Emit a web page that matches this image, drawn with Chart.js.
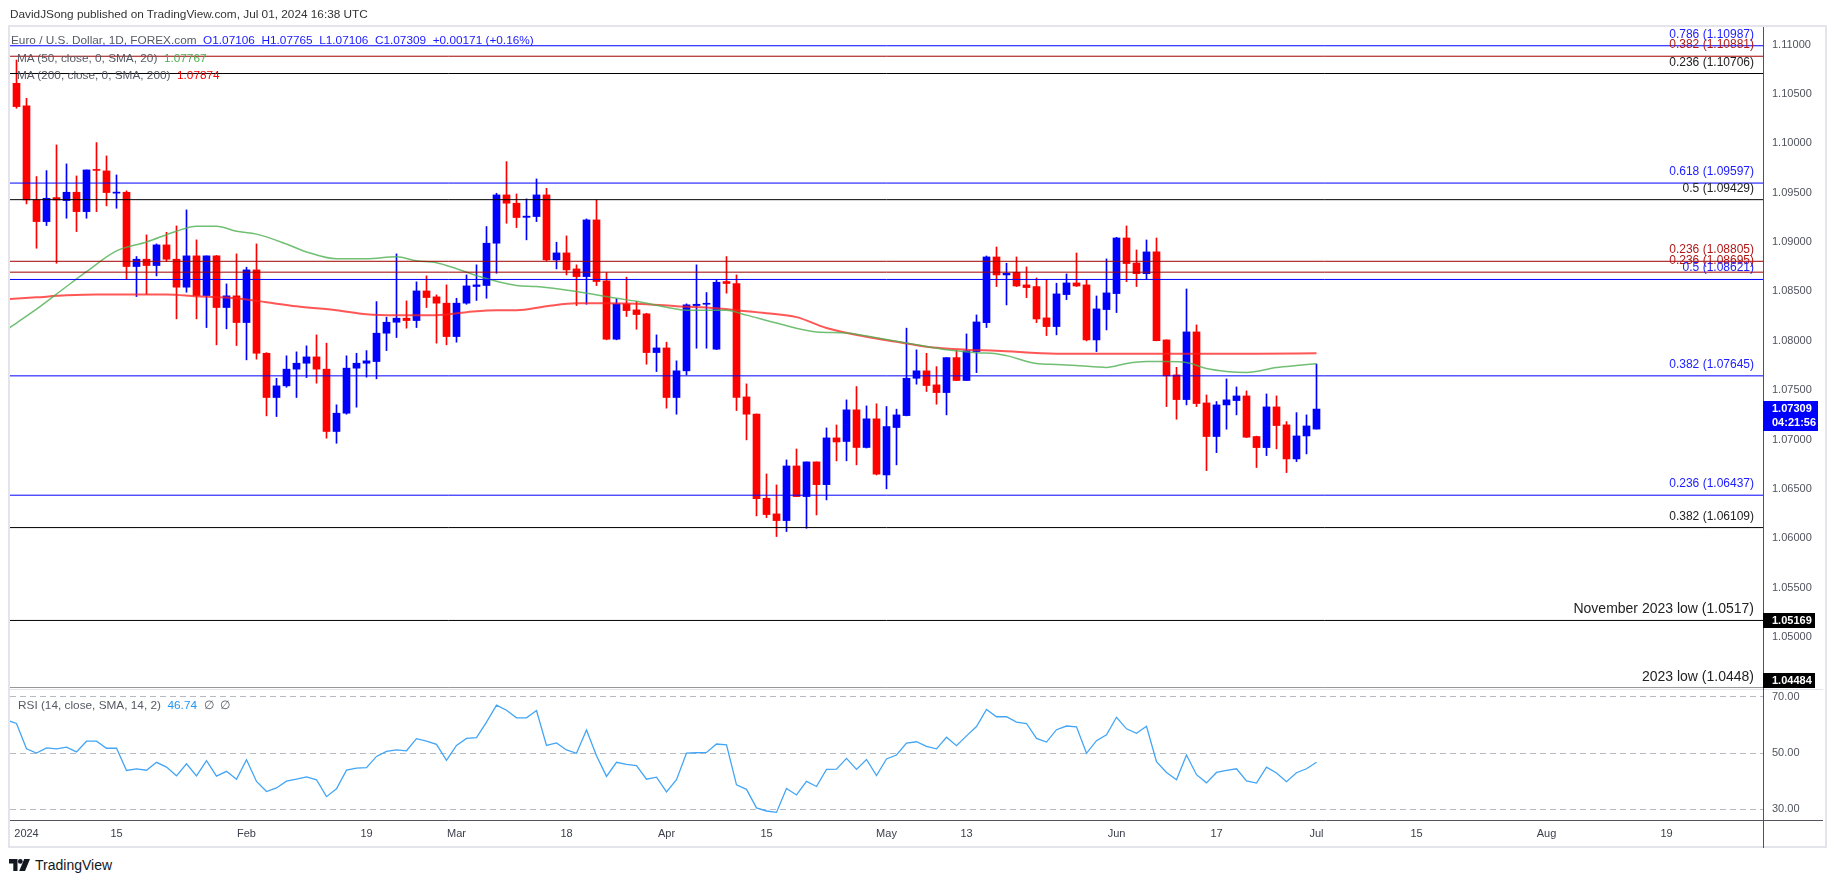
<!DOCTYPE html>
<html>
<head>
<meta charset="utf-8">
<title>EUR/USD 1D</title>
<script src="https://cdn.jsdelivr.net/npm/chart.js@4.4.1/dist/chart.umd.min.js"></script>
<style>
  html, body { margin: 0; padding: 0; background: #fff; }
  body { width: 1835px; height: 883px; position: relative; overflow: hidden; font-family: "Liberation Sans", Arial, sans-serif; }
  #frame { position: absolute; left: 8px; top: 25px; width: 1819px; height: 823px; box-sizing: border-box; border: 2px solid #e3e4ec; }
  canvas { position: absolute; left: 0; }
  #main { top: 0; }
  #rsi { top: 689px; }
  .txt { position: absolute; font-size: 11.8px; line-height: 15px; white-space: pre; color: #555a64; }
  .blue { color: #1a1aff; }
  #logo { position: absolute; left: 9px; top: 858px; height: 14px; display: flex; align-items: center; gap: 5px; }
</style>
</head>
<body>
<div id="frame"></div>
<canvas id="main" width="1835" height="690"></canvas>
<canvas id="rsi" width="1835" height="159"></canvas>

<div class="txt" style="left:10px;top:7px;color:#333">DavidJSong published on TradingView.com, Jul 01, 2024 16:38 UTC</div>
<div class="txt" style="left:11px;top:33px">Euro / U.S. Dollar, 1D, FOREX.com  <span class="blue" id="ohlc"></span></div>
<div class="txt" style="left:17px;top:51px">MA (50, close, 0, SMA, 20)  <span style="color:#4caf50" id="ma50v"></span></div>
<div class="txt" style="left:17px;top:68px">MA (200, close, 0, SMA, 200)  <span style="color:#ff0000" id="ma200v"></span></div>
<div class="txt" style="left:18px;top:698px">RSI (14, close, SMA, 14, 2)  <span style="color:#2196f3" id="rsiv"></span>  ∅  ∅</div>
<div id="logo">
  <svg width="21" height="12" viewBox="0 0 21 12"><path d="M0 0h8.5v12h-4.2v-7.6h-4.3z" fill="#131722"/><circle cx="11.3" cy="2.4" r="2.4" fill="#131722"/><path d="M15.2 0h5.8l-5 12h-5.8z" fill="#131722"/></svg>
  <span style="font-size:14px;color:#131722">TradingView</span>
</div>

<script>
// daily bars, index 0 = Dec 29 2023, index 130 = Jul 01 2024

const tickPos = [1, 10, 23, 35, 44, 55, 65, 75, 87, 95, 110, 120, 130, 140, 153, 165];
const tickLabels = ['2024', '15', 'Feb', '19', 'Mar', '18', 'Apr', '15', 'May', '13', 'Jun', '17', 'Jul', '15', 'Aug', '19'];

const opens = [1.10607,1.10378,1.09426,1.09207,1.09450,1.09420,1.09504,1.09308,1.09735,1.09720,
1.09495,1.09504,1.08752,1.08826,1.08762,1.08971,1.08826,1.08543,1.08860,1.08458,
1.08860,1.08337,1.08455,1.08185,1.08718,1.07874,1.07426,1.07544,1.07713,1.07773,
1.07837,1.07713,1.07082,1.07267,1.07723,1.07773,1.07790,1.08077,1.08188,1.08229,
1.08205,1.08505,1.08445,1.08381,1.08043,1.08381,1.08550,1.08560,1.08988,1.09477,
1.09393,1.09250,1.09258,1.09477,1.08819,1.08890,1.08728,1.08650,1.09224,1.08607,
1.08016,1.08374,1.08313,1.08273,1.07881,1.07928,1.07426,1.07696,1.08357,1.08370,
1.07915,1.08600,1.08580,1.07432,1.07257,1.06406,1.06248,1.06180,1.06733,1.06423,
1.06774,1.06544,1.07017,1.06981,1.07301,1.06920,1.07210,1.06642,1.07122,1.07243,
1.07621,1.07696,1.07554,1.07476,1.07830,1.07598,1.07891,1.08184,1.08849,1.08667,
1.08694,1.08566,1.08549,1.08232,1.08144,1.08468,1.08586,1.08566,1.08009,1.08316,
1.08478,1.09041,1.08788,1.08680,1.08900,1.08009,1.07655,1.07405,1.08090,1.07371,
1.07031,1.07351,1.07395,1.07442,1.07031,1.06919,1.07331,1.07149,1.06804,1.07037,
1.07106];

const highs = [1.10843,1.10455,1.09663,1.09723,1.09983,1.09791,1.09669,1.09730,1.10007,1.09872,
1.09679,1.09518,1.08853,1.09072,1.08981,1.09099,1.09163,1.09325,1.09022,1.08860,
1.08865,1.08576,1.08880,1.08745,1.08981,1.07880,1.07620,1.07848,1.07888,1.07949,
1.08060,1.07976,1.07352,1.07848,1.07874,1.07901,1.08397,1.08239,1.08880,1.08404,
1.08597,1.08657,1.08465,1.08566,1.08431,1.08667,1.08769,1.09157,1.09494,1.09814,
1.09487,1.09437,1.09639,1.09544,1.08998,1.09062,1.08769,1.09234,1.09426,1.08691,
1.08424,1.08644,1.08397,1.08279,1.08060,1.07986,1.07797,1.08374,1.08769,1.08489,
1.08617,1.08853,1.08667,1.07564,1.07260,1.06652,1.06541,1.06794,1.06905,1.06774,
1.06774,1.07118,1.07148,1.07402,1.07537,1.07341,1.07362,1.07335,1.07308,1.08128,
1.07908,1.07874,1.07739,1.07830,1.07901,1.08070,1.08262,1.08859,1.08950,1.08785,
1.08849,1.08748,1.08636,1.08619,1.08583,1.08677,1.08889,1.08616,1.08454,1.08829,
1.09048,1.09163,1.08920,1.09021,1.09041,1.08010,1.07732,1.08525,1.08161,1.07452,
1.07385,1.07614,1.07533,1.07493,1.07035,1.07462,1.07442,1.07182,1.07273,1.07250,
1.07765];

const lows = [1.10354,1.09386,1.08937,1.09167,1.08785,1.09241,1.09106,1.09241,1.09308,1.09366,
1.09342,1.08627,1.08448,1.08472,1.08657,1.08802,1.08222,1.08492,1.08222,1.08134,
1.07959,1.08121,1.07952,1.07807,1.07814,1.07240,1.07233,1.07530,1.07426,1.07628,
1.07571,1.07014,1.06963,1.07257,1.07328,1.07632,1.07615,1.07901,1.08033,1.08128,
1.08134,1.08337,1.07976,1.07959,1.07986,1.08370,1.08408,1.08431,1.08684,1.09190,
1.09146,1.09022,1.09207,1.08809,1.08728,1.08667,1.08357,1.08370,1.08559,1.08010,
1.08010,1.08246,1.08117,1.07763,1.07689,1.07318,1.07257,1.07655,1.07925,1.07925,
1.07910,1.08482,1.07294,1.06997,1.06227,1.06210,1.06018,1.06069,1.06423,1.06102,
1.06237,1.06389,1.06784,1.06785,1.06744,1.06915,1.06642,1.06501,1.06744,1.07240,
1.07561,1.07487,1.07358,1.07250,1.07598,1.07597,1.07678,1.08134,1.08549,1.08363,
1.08549,1.08437,1.08184,1.08053,1.08060,1.08417,1.08550,1.07999,1.07891,1.08110,
1.08286,1.08599,1.08549,1.08623,1.08000,1.07334,1.07206,1.07351,1.07334,1.06686,
1.06868,1.07105,1.07250,1.07020,1.06717,1.06838,1.06906,1.06666,1.06777,1.06855,
1.07106];

const closes = [1.10371,1.09426,1.09207,1.09443,1.09426,1.09504,1.09308,1.09730,1.09725,1.09501,
1.09505,1.08752,1.08826,1.08762,1.08971,1.08826,1.08543,1.08860,1.08458,1.08860,
1.08337,1.08455,1.08185,1.08718,1.07874,1.07426,1.07544,1.07713,1.07773,1.07837,
1.07713,1.07082,1.07267,1.07723,1.07773,1.07797,1.08077,1.08188,1.08229,1.08205,
1.08505,1.08438,1.08381,1.08043,1.08381,1.08556,1.08566,1.08988,1.09477,1.09393,
1.09248,1.09262,1.09477,1.08819,1.08890,1.08718,1.08650,1.09224,1.08600,1.08016,
1.08374,1.08306,1.08266,1.07881,1.07928,1.07426,1.07696,1.08364,1.08370,1.08374,
1.08593,1.08580,1.07426,1.07257,1.06403,1.06241,1.06180,1.06733,1.06423,1.06774,
1.06544,1.07017,1.06976,1.07301,1.06920,1.07210,1.06650,1.07132,1.07250,1.07621,
1.07696,1.07547,1.07476,1.07830,1.07598,1.07898,1.08191,1.08849,1.08667,1.08684,
1.08555,1.08539,1.08221,1.08144,1.08475,1.08586,1.08555,1.08009,1.08323,1.08485,
1.09041,1.08782,1.08680,1.08900,1.08002,1.07645,1.07405,1.08090,1.07365,1.07031,
1.07351,1.07402,1.07442,1.07024,1.06919,1.07331,1.07142,1.06804,1.07037,1.07138,
1.07309];

// moving averages read at a subset of bars
const ma50Idx = [-1,0,2,5,7,10,13,16,18,20,22,24,27,29,32,35,38,40,42,44,46,50,52,56,60,62,65,67,71,73,76,80,83,86,90,93,96,98,99,102,104,106,109,111,113,115,117,119,121,123,126,128,130];
const ma50Val = [1.0811,1.0818,1.0832,1.0855,1.0870,1.0891,1.0900,1.0911,1.0916,1.0916,1.0911,1.0908,1.0898,1.0890,1.0883,1.0883,1.0885,1.0881,1.0879,1.0873,1.0866,1.0856,1.0855,1.0850,1.0843,1.0840,1.0834,1.0831,1.0831,1.0826,1.0818,1.0809,1.0808,1.0803,1.0796,1.0791,1.0788,1.0787,1.0785,1.0777,1.0776,1.0775,1.0773,1.0777,1.0779,1.0779,1.0778,1.0772,1.0769,1.0768,1.0773,1.0775,1.07767];

const ma200Idx = [-1,2,5,8,12,15,18,22,25,28,32,35,38,42,45,48,50,53,56,59,63,66,70,72,75,78,81,85,88,91,95,98,104,111,118,124,130];
const ma200Val = [1.0842,1.0844,1.0846,1.0847,1.0847,1.0847,1.0845,1.0843,1.0839,1.0835,1.0831,1.0827,1.0826,1.0826,1.0829,1.0831,1.0831,1.0835,1.0838,1.0838,1.0837,1.0835,1.0833,1.0831,1.0828,1.0824,1.0813,1.0804,1.0799,1.0794,1.0791,1.0790,1.0787,1.0787,1.0787,1.0787,1.07874];

// RSI, first value is the bar before index 0
const rsiStart = -1;
const rsiVals = [61.7,60.5,51.5,50.0,51.8,51.5,52.1,50.4,54.2,54.2,51.7,
51.7,43.8,44.4,43.9,46.7,45.0,41.9,46.2,41.9,47.3,
41.8,43.5,40.7,47.6,39.9,36.3,37.6,40.0,40.7,41.5,
40.5,34.5,37.3,43.9,44.6,44.8,48.8,50.6,51.1,50.8,
55.1,54.2,53.1,47.4,52.7,55.2,55.5,61.0,67.0,65.2,
62.5,62.5,65.1,52.7,53.6,51.1,49.9,58.2,49.0,41.7,
46.7,46.0,45.5,40.7,41.4,36.2,40.5,50.0,50.1,50.2,
53.2,52.9,38.7,37.1,30.5,29.4,28.9,37.4,35.1,39.9,
38.1,44.2,44.3,48.1,44.2,47.7,42.0,47.9,49.3,53.5,
54.0,52.4,51.5,55.6,52.6,56.1,59.4,65.5,62.9,62.9,
61.0,60.5,55.2,53.9,58.3,59.6,59.3,49.9,54.4,56.5,
62.7,58.6,57.0,59.5,46.9,43.1,40.5,49.3,42.3,39.4,
43.1,43.8,44.4,40.1,39.3,45.0,42.9,39.8,43.0,44.4,
46.74];

// fibonacci / support levels
const levelValues = [1.10987, 1.10881, 1.10706, 1.09597, 1.09429, 1.08805, 1.08695, 1.08621, 1.07645, 1.06437, 1.06109, 1.05169, 1.04484];
const levelLabels = ['0.786 (1.10987)', '0.382 (1.10881)', '0.236 (1.10706)', '0.618 (1.09597)', '0.5 (1.09429)',
  '0.236 (1.08805)', '0.236 (1.08695)', '0.5 (1.08621)', '0.382 (1.07645)', '0.236 (1.06437)', '0.382 (1.06109)',
  'November 2023 low (1.0517)', '2023 low (1.0448)'];
const levelKind = ['b', 'r', 'k', 'b', 'k', 'r', 'r', 'b', 'b', 'b', 'k', 'k', 'k'];
const boxedLevels = [1.05169, 1.04484];

const priceTicks = [1.05, 1.055, 1.06, 1.065, 1.07, 1.075, 1.08, 1.085, 1.09, 1.095, 1.10, 1.105, 1.11];
const rsiTicks = [30, 50, 70];

// styles
const FONT = '"Liberation Sans", Arial, sans-serif';
const UP = '#0000ff', DOWN = '#ff0000';
const lineColor = { b: '#0000ff', r: '#a00000', k: '#000000' };
const textColor = { b: '#2020ff', r: '#b01818', k: '#222222' };
const AXIS = '#50535e';
const X_MIN = -0.65, X_MAX = 174.65;

// legend values
const last = closes.length - 1;
const f5 = v => v.toFixed(5);
const chg = closes[last] - closes[last - 1];
document.getElementById('ohlc').textContent =
  `O${f5(opens[last])}  H${f5(highs[last])}  L${f5(lows[last])}  C${f5(closes[last])}  +${chg.toFixed(5)} (+${(chg / closes[last - 1] * 100).toFixed(2)}%)`;
document.getElementById('ma50v').textContent = f5(ma50Val[ma50Val.length - 1]);
document.getElementById('ma200v').textContent = f5(ma200Val[ma200Val.length - 1]);
document.getElementById('rsiv').textContent = rsiVals[rsiVals.length - 1].toFixed(2);

const candleColors = closes.map((c, i) => c >= opens[i] ? UP : DOWN);

const xScale = (display) => ({
  type: 'linear', min: X_MIN, max: X_MAX, bounds: 'data', offset: false, display: display,
  grid: { display: false, drawTicks: false },
  border: { display: true, color: AXIS, width: 1 },
  afterBuildTicks: s => { s.ticks = tickPos.map(v => ({ value: v })); },
  afterFit: s => {
    s.paddingLeft = 0; s.paddingRight = 0;
    if (display) s.height = 28;
  },
  ticks: { autoSkip: false, maxRotation: 0, padding: 7, color: '#3a3e4a', font: { size: 11, family: FONT },
           callback: (v, k) => tickLabels[k] }
});

const yFit = s => { s.width = 60; s.paddingTop = 0; s.paddingBottom = 0; };

// main price pane
const mainDecor = {
  id: 'mainDecor',
  afterDatasetsDraw(chart) {
    const { ctx, chartArea: a, scales: { y } } = chart;
    ctx.save();
    ctx.textAlign = 'right';
    ctx.textBaseline = 'alphabetic';
    levelValues.forEach((v, k) => {
      const big = k >= 11;
      const py = y.getPixelForValue(v);
      ctx.font = (big ? '14px ' : '12px ') + FONT;
      ctx.fillStyle = textColor[levelKind[k]];
      ctx.fillText(levelLabels[k], a.right - 9, py - (big ? 7 : 8));
    });
    ctx.restore();
  },
  afterDraw(chart) {
    const { ctx, chartArea: a, scales: { y } } = chart;
    ctx.save();
    // separator between plot and price scale
    ctx.strokeStyle = AXIS;
    ctx.lineWidth = 1;
    ctx.beginPath();
    ctx.moveTo(a.right + 0.5, a.top);
    ctx.lineTo(a.right + 0.5, chart.height);
    ctx.stroke();

    ctx.textAlign = 'left';
    ctx.textBaseline = 'middle';
    // last price box
    const py = y.getPixelForValue(closes[last]);
    ctx.fillStyle = '#0000ff';
    ctx.fillRect(a.right, Math.round(py - 8), 55, 30);
    ctx.fillStyle = '#ffffff';
    ctx.font = 'bold 11px ' + FONT;
    ctx.fillText(f5(closes[last]), a.right + 9, py);
    ctx.fillText('04:21:56', a.right + 9, py + 14);
    // support boxes
    boxedLevels.forEach(v => {
      const by = y.getPixelForValue(v);
      const top = Math.min(Math.round(by - 7.5), a.bottom - 15);
      ctx.fillStyle = '#000000';
      ctx.fillRect(a.right, top, 52, 15);
      ctx.fillStyle = '#ffffff';
      ctx.fillText(f5(v), a.right + 9, top + 8);
    });
    ctx.restore();
  }
};

const levelSets = levelValues.map((v, k) => ({
  type: 'line',
  data: [{ x: X_MIN, y: v }, { x: X_MAX, y: v }],
  borderColor: lineColor[levelKind[k]],
  borderWidth: 1,
  pointRadius: 0,
  order: 0
}));

new Chart(document.getElementById('main'), {
  type: 'bar',
  data: {
    datasets: [
      {
        label: 'body',
        data: opens.map((o, i) => ({ x: i, y: [o, closes[i]] })),
        backgroundColor: candleColors,
        barThickness: 7,
        minBarLength: 1,
        grouped: false,
        order: 2
      },
      {
        label: 'wick',
        data: lows.map((l, i) => ({ x: i, y: [l, highs[i]] })),
        backgroundColor: candleColors,
        barThickness: 1,
        grouped: false,
        order: 3
      },
      {
        type: 'line', label: 'MA50',
        data: ma50Idx.map((x, k) => ({ x: x, y: ma50Val[k] })),
        borderColor: 'rgba(76,175,80,0.8)', borderWidth: 1.5, pointRadius: 0,
        cubicInterpolationMode: 'monotone', order: 1
      },
      {
        type: 'line', label: 'MA200',
        data: ma200Idx.map((x, k) => ({ x: x, y: ma200Val[k] })),
        borderColor: 'rgba(255,30,30,0.75)', borderWidth: 2, pointRadius: 0,
        cubicInterpolationMode: 'monotone', order: 1
      },
      ...levelSets
    ]
  },
  options: {
    responsive: false,
    animation: false,
    devicePixelRatio: 1,
    events: [],
    layout: { padding: { top: 27, left: 10, right: 12, bottom: 2 } },
    plugins: { legend: { display: false }, tooltip: { enabled: false } },
    scales: {
      x: xScale(false),
      y: {
        type: 'linear', position: 'right', min: 1.04485, max: 1.11177, bounds: 'data',
        grid: { display: false, drawTicks: false },
        border: { display: true, color: AXIS, width: 1 },
        afterFit: yFit,
        afterBuildTicks: s => { s.ticks = priceTicks.map(v => ({ value: v })); },
        ticks: { padding: 9, color: AXIS, font: { size: 11, family: FONT }, callback: v => v.toFixed(5) }
      }
    }
  },
  plugins: [mainDecor]
});

// RSI pane
const rsiDecor = {
  id: 'rsiDecor',
  afterDraw(chart) {
    const { ctx, chartArea: a } = chart;
    ctx.save();
    ctx.strokeStyle = '#e3e4ec';
    ctx.lineWidth = 1;
    ctx.beginPath();
    ctx.moveTo(a.left, a.top - 0.5);
    ctx.lineTo(a.right + 60, a.top - 0.5);
    ctx.stroke();
    ctx.strokeStyle = AXIS;
    ctx.beginPath();
    ctx.moveTo(a.right + 0.5, 0);
    ctx.lineTo(a.right + 0.5, chart.height);
    ctx.moveTo(a.right, a.bottom + 0.5);
    ctx.lineTo(a.right + 60, a.bottom + 0.5);
    ctx.stroke();
    ctx.restore();
  }
};

new Chart(document.getElementById('rsi'), {
  type: 'line',
  data: {
    datasets: [{
      label: 'RSI',
      data: rsiVals.map((v, k) => ({ x: rsiStart + k, y: v })),
      borderColor: '#42a5f5', borderWidth: 1.3, pointRadius: 0, tension: 0
    }]
  },
  options: {
    responsive: false,
    animation: false,
    devicePixelRatio: 1,
    events: [],
    layout: { padding: { top: 1, left: 10, right: 12, bottom: 0 } },
    plugins: { legend: { display: false }, tooltip: { enabled: false } },
    scales: {
      x: xScale(true),
      y: {
        type: 'linear', position: 'right', min: 26.2, max: 72.4, bounds: 'data',
        grid: { display: true, drawTicks: false, color: '#b8bac2', lineWidth: 1 },
        border: { display: true, color: AXIS, width: 1, dash: [6, 4] },
        afterFit: yFit,
        afterBuildTicks: s => { s.ticks = rsiTicks.map(v => ({ value: v })); },
        ticks: { padding: 9, color: AXIS, font: { size: 11, family: FONT }, callback: v => v.toFixed(2) }
      }
    }
  },
  plugins: [rsiDecor]
});
</script>
</body>
</html>
